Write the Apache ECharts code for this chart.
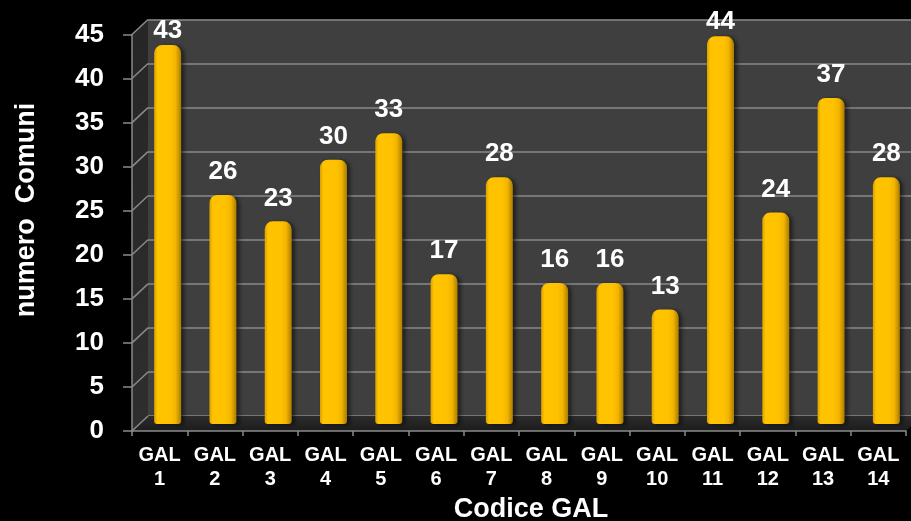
<!DOCTYPE html>
<html><head><meta charset="utf-8">
<script src="https://cdn.jsdelivr.net/npm/echarts@6/dist/echarts.min.js"></script>
<style>html,body{margin:0;padding:0;background:#000;}#c{width:911px;height:521px;}</style>
</head><body><div id="c"></div>
<script>
// ---- data ----
const categories = ['GAL\n1','GAL\n2','GAL\n3','GAL\n4','GAL\n5','GAL\n6','GAL\n7','GAL\n8','GAL\n9','GAL\n10','GAL\n11','GAL\n12','GAL\n13','GAL\n14'];
const values = [43, 26, 23, 30, 33, 17, 28, 16, 16, 13, 44, 24, 37, 28];
const yMin = 0, yMax = 45, yStep = 5;
const yTitle = 'numero  Comuni';
const xTitle = 'Codice GAL';

// ---- layout ----
const FONT = '"Liberation Sans", Arial, sans-serif';
const F = {left: 132, right: 5, top: 34.5, bottom: 90};   // front plane
const D = {dx: 16, dy: -15};                               // back wall depth offset
const B = {dx: 8, dy: -7};                                 // bars depth offset
const GRID = '#8a8a8a';

const chart = echarts.init(document.getElementById('c'), null, {renderer: 'canvas'});

function gridAt(o, extra) {
  return Object.assign({left: F.left + o.dx, right: F.right - o.dx, top: F.top + o.dy, bottom: F.bottom - o.dy,
    containLabel: false, outerBoundsMode: 'none'}, extra || {});
}

const yBase = {type: 'value', min: yMin, max: yMax, interval: yStep};

// labels near the top of the plot sit closer to their bars (as in the reference)
const barData = values.map(v => ({value: v, label: {distance: v >= 40 ? 1 : 10}}));

const option = {
  backgroundColor: '#000',
  animation: false,
  grid: [
    gridAt(D, {show: true, backgroundColor: '#3f3f3f', borderWidth: 0, z: 0}),
    gridAt(B),
    gridAt({dx: 0, dy: 0})
  ],
  xAxis: [
    {type: 'category', gridIndex: 0, data: categories, show: false},
    {type: 'category', gridIndex: 1, data: categories, show: false},
    {type: 'category', gridIndex: 2, data: categories, z: 6,
     axisLine: {show: true, lineStyle: {color: GRID, width: 1.5}},
     axisTick: {show: true, length: 5, lineStyle: {color: GRID, width: 1.5}},
     axisLabel: {color: '#fff', fontFamily: FONT, fontWeight: 'bold', fontSize: 20, lineHeight: 24, margin: 12, interval: 0},
     splitLine: {show: false},
     name: xTitle, nameLocation: 'middle', nameGap: 64,
     nameTextStyle: {color: '#fff', fontFamily: FONT, fontWeight: 'bold', fontSize: 27, padding: [0, 0, 0, 24]}}
  ],
  yAxis: [
    Object.assign({gridIndex: 0, z: 0,
      axisLine: {show: false}, axisTick: {show: false}, axisLabel: {show: false},
      splitLine: {show: true, lineStyle: {color: GRID, width: 1.5}}}, yBase),
    Object.assign({gridIndex: 1, show: false, splitLine: {show: false}}, yBase),
    Object.assign({gridIndex: 2, z: 6,
      axisLine: {show: true, lineStyle: {color: GRID, width: 1.5}},
      axisTick: {show: true, length: 9, lineStyle: {color: GRID, width: 1.5}},
      axisLabel: {color: '#fff', fontFamily: FONT, fontWeight: 'bold', fontSize: 26, margin: 28},
      splitLine: {show: false}}, yBase)
  ],
  series: [{
    type: 'bar', xAxisIndex: 1, yAxisIndex: 1, data: barData, z: 5,
    barWidth: 27,
    itemStyle: {
      borderRadius: [8, 8, 3, 3],
      color: new echarts.graphic.LinearGradient(0, 0, 1, 0, [
        {offset: 0, color: '#d9a000'},
        {offset: 0.12, color: '#ffc300'},
        {offset: 0.6, color: '#ffc200'},
        {offset: 0.8, color: '#f2b400'},
        {offset: 1, color: '#a87c00'}
      ]),
      shadowColor: 'rgba(0,0,0,0.55)', shadowBlur: 4, shadowOffsetX: 3, shadowOffsetY: 1
    },
    label: {show: true, position: 'top', color: '#fff', fontFamily: FONT, fontWeight: 'bold', fontSize: 26}
  }]
};
chart.setOption(option);

// ---- 3D side wall, floor and wall gridline connectors (decoration) ----
const W = 911, H = 521;
const fL = F.left, fR = W - F.right, fT = F.top, fB = H - F.bottom;
const bL = fL + D.dx, bR = fR + D.dx, bT = fT + D.dy, bB = fB + D.dy;
const els = [];
els.push({type: 'polygon', z: 1, silent: true,
  shape: {points: [[fL, fT], [bL, bT], [bL, bB], [fL, fB]]},
  style: {fill: new echarts.graphic.LinearGradient(0, 0, 0, 1, [{offset: 0, color: '#262626'}, {offset: 1, color: '#2e2e2e'}])}});
els.push({type: 'polygon', z: 1, silent: true,
  shape: {points: [[fL, fB], [bL, bB], [bR, bB], [fR, fB]]},
  style: {fill: new echarts.graphic.LinearGradient(0, 0, 0, 1, [{offset: 0, color: '#2c2c2c'}, {offset: 1, color: '#1c1c1c'}])}});
for (let v = yMin; v <= yMax; v += yStep) {
  const yf = chart.convertToPixel({yAxisIndex: 2}, v);
  const yb = chart.convertToPixel({yAxisIndex: 0}, v);
  els.push({type: 'line', z: 2, silent: true,
    shape: {x1: fL, y1: yf, x2: bL, y2: yb}, style: {stroke: GRID, lineWidth: 1.5}});
}
// y axis title (rotated)
els.push({type: 'text', z: 6, silent: true, x: 27, y: 210, rotation: Math.PI / 2,
  style: {text: yTitle, fill: '#fff', font: 'bold 27px ' + FONT, textAlign: 'center', textVerticalAlign: 'middle'}});
chart.setOption({graphic: {elements: els}});
</script>
</body></html>
